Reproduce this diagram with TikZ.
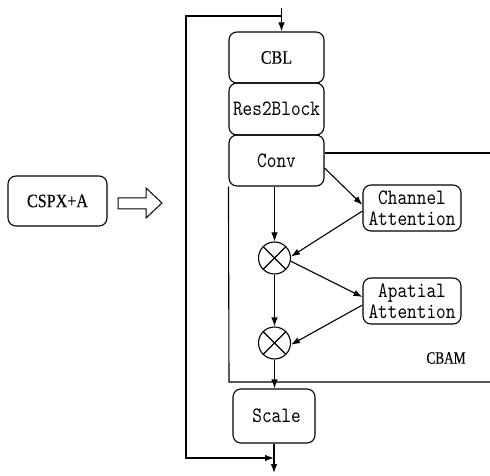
\documentclass[tikz,border=0pt]{standalone}
\usepackage{fontspec}
\setmainfont{Liberation Serif}
\newfontfamily\condserif{Liberation Serif}[FakeStretch=0.85,FakeBold=0.25]
\newfontfamily\condserifb{Liberation Serif}[FakeStretch=0.76,FakeBold=0.25]
\newfontfamily\monof{lmmono10-regular.otf}[FakeStretch=0.84]
\usetikzlibrary{arrows.meta,calc}
\begin{document}
\begin{tikzpicture}[x=1bp,y=-1bp,line width=1.1bp,
  blk/.style={draw,rounded corners=8bp,align=center,inner sep=0pt},
  mono/.style={font=\monof\fontsize{22}{21}\selectfont},
  serifl/.style={font=\condserif\fontsize{19}{20}\selectfont},
  mult/.style={draw,circle,minimum size=32bp,inner sep=0pt,
    path picture={\draw ($(path picture bounding box.center)+(45:16bp)$) -- ($(path picture bounding box.center)+(225:16bp)$);
                  \draw ($(path picture bounding box.center)+(135:16bp)$) -- ($(path picture bounding box.center)+(315:16bp)$);}},
  arr/.style={-{Latex[length=9bp,width=6.5bp]}}]
\useasboundingbox (0,0) rectangle (490,476);
% blocks
\node[blk,serifl,minimum width=95bp,minimum height=51bp] (cbl) at (276.5,57.5) {CBL};
\node[blk,mono,minimum width=95bp,minimum height=52bp] (res) at (276.5,109) {Res2Block};
\node[blk,mono,minimum width=95bp,minimum height=51bp] (conv) at (276.5,160.5) {Conv};
\node[blk,mono,minimum width=98bp,minimum height=46bp] (ca) at (412,208) {Channel\\Attention};
\node[blk,mono,minimum width=98bp,minimum height=46bp] (aa) at (412,301) {Apatial\\Attention};
\node[mult] (m1) at (274.5,258) {};
\node[mult] (m2) at (274.5,343) {};
\node[blk,mono,minimum width=82bp,minimum height=54bp] (scale) at (274,416) {\hspace*{5bp}Scale};
\node[blk,serifl,minimum width=99bp,minimum height=50bp] (cspx) at (57.5,201) {CSPX+A};
\node[font=\condserifb\fontsize{17.5}{18}\selectfont] (cbam) at (446,358) {CBAM};
% CBAM frame
\coordinate (ftop) at (490,153);
\coordinate (fbl) at (229,382);
\coordinate (fbr) at (490,382);
\draw (conv.east |- ftop) -- (ftop);
\draw (conv.south west) -- (fbl) -- (fbr);
% hollow arrow
\draw[line width=1bp] (118,198) -- (146,198) -- (146,188) -- (162,203) -- (146,218) -- (146,209) -- (118,209) -- cycle;
% input / loop / output
\coordinate (tin) at (281.5,8);
\coordinate (lt) at (186,16);
\coordinate (lb) at (186,458);
\coordinate (tout) at (274,473);
\draw[arr] (tin) -- (tin |- cbl.north);
\draw[arr] (tin |- lt) -- (lt) -- (lb) -- (scale.south |- lb);
\draw[arr] (scale.south) -- (tout);
% CBAM flow
\draw[arr] ([yshift=-7.5bp]conv.east) -- ([yshift=3bp]ca.west);
\draw[arr] (m1 |- conv.south) -- (m1.north);
\draw[arr] ([yshift=-3bp]ca.west) -- (m1.5);
\draw[arr] (m1.-11) -- ([yshift=4bp]aa.west);
\draw[arr] ([yshift=-4bp]aa.west) -- (m2.-6);
\draw[arr] (m1.south) -- (m2.north);
\draw[arr] (m2.south) -- (m2 |- scale.north);
\end{tikzpicture}
\end{document}
